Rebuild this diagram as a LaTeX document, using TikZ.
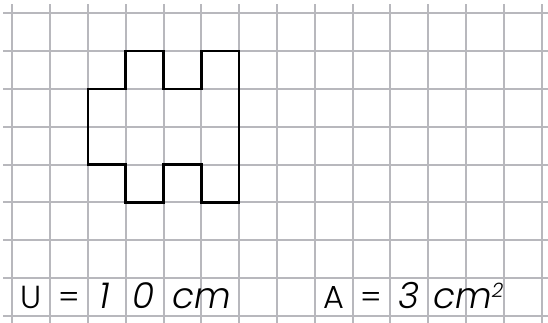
\documentclass[tikz,border=0pt]{standalone}
\usepackage{fontspec}
\setmainfont{Poppins}
\newfontfamily\lightfont{Poppins Light}
\definecolor{gridgray}{HTML}{B8B8BD}

\begin{document}
\begin{tikzpicture}[
    gridline/.style={gridgray, line width=1.5pt},
    upright/.style={anchor=base, inner sep=0pt, font=\fontsize{24}{24}\selectfont\lightfont},
    hand/.style={anchor=base, inner sep=0pt, font=\fontsize{27}{27}\selectfont\lightfont\itshape}
  ]
  \useasboundingbox (-0.325,-0.167) rectangle (14.17,8.352);
  \clip (-0.325,-0.167) rectangle (14.17,8.352);
  % Grid
  \foreach \x in {0,...,14}{
    \draw[gridline] (\x,-0.5) -- (\x,8.24);
  }
  \foreach \y in {0,...,8}{
    \draw[gridline] (-0.24,\y) -- (14.5,\y);
  }
  % Figure
  \draw[line width=1.9pt, line join=miter]
    (2,6) -- (3,6) -- (3,7) -- (4,7) -- (4,6) -- (5,6) -- (5,7) -- (6,7)
    -- (6,3) -- (5,3) -- (5,4) -- (4,4) -- (4,3) -- (3,3) -- (3,4) -- (2,4) -- cycle;
  % Perimeter
  \node[upright] (ulabel) at (0.49,0.19) {U};
  \node[upright] (ueq) at (1.5,0.19) {=};
  \node[hand] (uone) at (2.45,0.19) {1};
  \node[hand] (uzero) at (3.48,0.19) {0};
  \node[hand, anchor=base west] (ucm) at (4.22,0.19) {cm};
  % Area
  \node[upright] (alabel) at (8.5,0.19) {A};
  \node[upright] (aeq) at (9.5,0.19) {=};
  \node[hand] (athree) at (10.49,0.19) {3};
  \node[hand, anchor=base west] (acm) at (11.13,0.19)
    {cm\raisebox{0.28cm}{\fontsize{15}{15}\selectfont 2}};
\end{tikzpicture}
\end{document}
